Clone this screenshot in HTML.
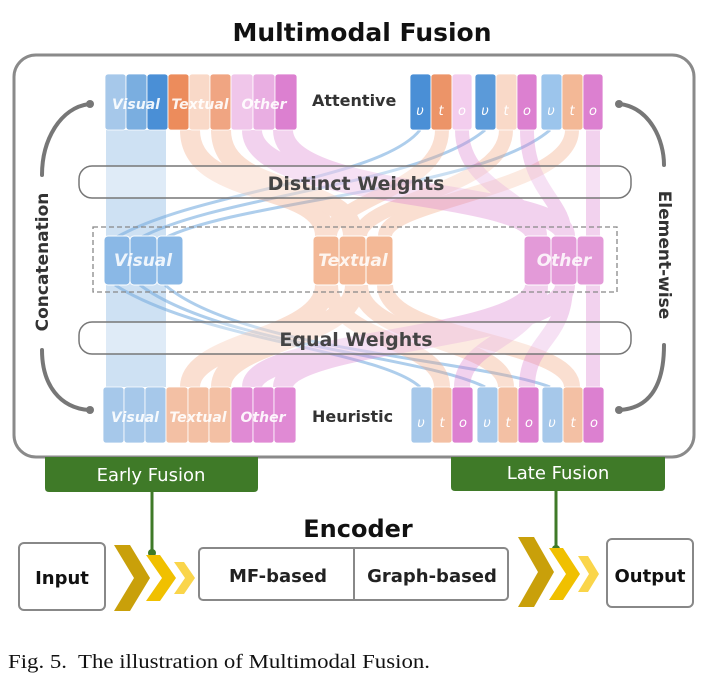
<!DOCTYPE html>
<html><head><meta charset="utf-8"><style>
body{margin:0;background:#fff;width:703px;height:679px;overflow:hidden}
svg text{font-family:"DejaVu Sans","Liberation Sans",sans-serif}
svg text.cap{font-family:"Liberation Serif",serif}
</style></head><body>
<svg width="703" height="679" viewBox="0 0 703 679" xmlns="http://www.w3.org/2000/svg">
<text x="362" y="41" text-anchor="middle" font-size="25" font-weight="bold" fill="#111">Multimodal Fusion</text>
<rect x="14" y="55" width="680" height="402" rx="22" fill="#fff" stroke="#8a8a8a" stroke-width="3"/>

<g fill="none" stroke-linecap="butt">
<path d="M136 130 L136 387" stroke="#a6c8ea" stroke-width="60" opacity="0.55"/>
<g stroke="#7aaee0" stroke-width="3" opacity="0.6">
<path d="M115 238 C200 190 380 180 420 130"/><path d="M140 238 C220 195 420 185 485 130"/><path d="M165 238 C240 200 480 190 550 130"/>
<path d="M115 285 C200 340 380 350 420 387"/><path d="M140 285 C220 345 420 355 485 387"/><path d="M165 285 C240 350 480 360 550 387"/>
</g>
<g stroke="#f2a47e" opacity="0.35">
<path d="M190 130 C190 200 325 180 325 236" stroke-width="20"/>
<path d="M221 130 C221 200 353 180 353 236" stroke-width="20"/>
<path d="M442 130 C442 190 330 200 330 236" stroke-width="14"/>
<path d="M506 130 C506 190 360 200 360 236" stroke-width="14"/>
<path d="M572 130 C572 190 385 200 385 236" stroke-width="14"/>
<path d="M325 285 C325 340 190 340 190 387" stroke-width="20"/>
<path d="M355 285 C355 340 221 340 221 387" stroke-width="20"/>
<path d="M330 285 C330 340 442 340 442 387" stroke-width="16"/>
<path d="M360 285 C360 340 506 340 506 387" stroke-width="16"/>
<path d="M385 285 C385 340 572 340 572 387" stroke-width="16"/>
</g>
<g stroke="#dc80d0" opacity="0.35">
<path d="M252 130 C252 200 535 190 535 236" stroke-width="20"/>
<path d="M283 130 C283 200 565 190 565 236" stroke-width="20"/>
<path d="M462 130 C462 190 540 200 540 236" stroke-width="14"/>
<path d="M527 130 C527 190 565 200 565 236" stroke-width="14"/>
<path d="M593 130 L593 387" stroke-width="14"/>
<path d="M535 285 C535 340 252 340 252 387" stroke-width="20"/>
<path d="M565 285 C565 340 283 340 283 387" stroke-width="20"/>
<path d="M540 285 C540 340 462 340 462 387" stroke-width="16"/>
<path d="M565 285 C565 340 527 340 527 387" stroke-width="16"/>
</g>
</g>

<rect x="79" y="166" width="552" height="32" rx="13" fill="#fff" fill-opacity="0.35" stroke="#777" stroke-width="1.5"/>
<text x="356" y="190" text-anchor="middle" font-size="19" font-weight="bold" fill="#444">Distinct Weights</text>
<rect x="79" y="322" width="552" height="32" rx="13" fill="#fff" fill-opacity="0.35" stroke="#777" stroke-width="1.5"/>
<text x="356" y="346" text-anchor="middle" font-size="19" font-weight="bold" fill="#444">Equal Weights</text>
<rect x="93" y="227" width="524" height="65" fill="none" stroke="#888" stroke-width="1.3" stroke-dasharray="5,3"/>

<g stroke="#fff" stroke-width="1">
<rect x="104" y="236" width="26" height="49" rx="4" fill="#8ab8e6"/><rect x="130" y="236" width="27" height="49" rx="4" fill="#8ab8e6"/><rect x="157" y="236" width="26" height="49" rx="4" fill="#8ab8e6"/>
<rect x="313" y="236" width="26" height="49" rx="4" fill="#f3b896"/><rect x="339" y="236" width="27" height="49" rx="4" fill="#f3b896"/><rect x="366" y="236" width="27" height="49" rx="4" fill="#f3b896"/>
<rect x="524" y="236" width="27" height="49" rx="4" fill="#e39ad8"/><rect x="551" y="236" width="26" height="49" rx="4" fill="#e39ad8"/><rect x="577" y="236" width="27" height="49" rx="4" fill="#e39ad8"/>
</g>
<g font-size="17" font-weight="bold" font-style="italic" fill="#fff" fill-opacity="0.85" text-anchor="middle">
<text x="143" y="266">Visual</text><text x="353" y="266">Textual</text><text x="564" y="266">Other</text>
</g>

<g stroke="#fff" stroke-width="0.8">
<rect x="105" y="74" width="21" height="56" rx="3" fill="#a6c8ea"/><rect x="126" y="74" width="21" height="56" rx="3" fill="#7aaee0"/><rect x="147" y="74" width="21" height="56" rx="3" fill="#4a8fd6"/>
<rect x="168" y="74" width="21" height="56" rx="3" fill="#ec8c5c"/><rect x="189" y="74" width="21" height="56" rx="3" fill="#f9d9c8"/><rect x="210" y="74" width="21" height="56" rx="3" fill="#f0a582"/>
<rect x="231" y="74" width="22" height="56" rx="3" fill="#f0c6ea"/><rect x="253" y="74" width="22" height="56" rx="3" fill="#e9aee2"/><rect x="275" y="74" width="22" height="56" rx="3" fill="#dc80d0"/>
<rect x="410" y="74" width="21" height="56" rx="3" fill="#4a8fd6"/><rect x="431" y="74" width="21" height="56" rx="3" fill="#ec9468"/><rect x="452" y="74" width="20" height="56" rx="3" fill="#f3cdee"/>
<rect x="475" y="74" width="21" height="56" rx="3" fill="#5b9ad9"/><rect x="496" y="74" width="21" height="56" rx="3" fill="#f9d9c8"/><rect x="517" y="74" width="20" height="56" rx="3" fill="#dc80d0"/>
<rect x="541" y="74" width="21" height="56" rx="3" fill="#9cc5ec"/><rect x="562" y="74" width="21" height="56" rx="3" fill="#f3b896"/><rect x="583" y="74" width="20" height="56" rx="3" fill="#dc80d0"/>
</g>
<g stroke="#fff" stroke-width="0.8">
<rect x="103" y="387" width="21" height="56" rx="3" fill="#a6c8ea"/><rect x="124" y="387" width="21" height="56" rx="3" fill="#a6c8ea"/><rect x="145" y="387" width="21" height="56" rx="3" fill="#a6c8ea"/>
<rect x="166" y="387" width="22" height="56" rx="3" fill="#f3c0a4"/><rect x="188" y="387" width="21" height="56" rx="3" fill="#f3c0a4"/><rect x="209" y="387" width="22" height="56" rx="3" fill="#f3c0a4"/>
<rect x="231" y="387" width="22" height="56" rx="3" fill="#e08ad4"/><rect x="253" y="387" width="21" height="56" rx="3" fill="#e08ad4"/><rect x="274" y="387" width="22" height="56" rx="3" fill="#e08ad4"/>
<rect x="411" y="387" width="21" height="56" rx="3" fill="#a6c8ea"/><rect x="432" y="387" width="20" height="56" rx="3" fill="#f3c0a4"/><rect x="452" y="387" width="21" height="56" rx="3" fill="#dc80d0"/>
<rect x="477" y="387" width="21" height="56" rx="3" fill="#a6c8ea"/><rect x="498" y="387" width="20" height="56" rx="3" fill="#f3c0a4"/><rect x="518" y="387" width="21" height="56" rx="3" fill="#dc80d0"/>
<rect x="542" y="387" width="21" height="56" rx="3" fill="#a6c8ea"/><rect x="563" y="387" width="20" height="56" rx="3" fill="#f3c0a4"/><rect x="583" y="387" width="21" height="56" rx="3" fill="#dc80d0"/>
</g>
<g font-size="14" font-weight="bold" font-style="italic" fill="#fff" fill-opacity="0.9" text-anchor="middle">
<text x="136" y="109">Visual</text><text x="200" y="109">Textual</text><text x="264" y="109">Other</text>
<text x="135" y="422">Visual</text><text x="198" y="422">Textual</text><text x="263" y="422">Other</text>
</g>
<g font-size="13" font-style="italic" fill="#fff" text-anchor="middle">
<text x="420" y="115">υ</text><text x="441" y="115">t</text><text x="462" y="115">o</text>
<text x="485" y="115">υ</text><text x="506" y="115">t</text><text x="527" y="115">o</text>
<text x="551" y="115">υ</text><text x="572" y="115">t</text><text x="593" y="115">o</text>
<text x="421" y="427">υ</text><text x="442" y="427">t</text><text x="463" y="427">o</text>
<text x="487" y="427">υ</text><text x="508" y="427">t</text><text x="529" y="427">o</text>
<text x="552" y="427">υ</text><text x="573" y="427">t</text><text x="594" y="427">o</text>
</g>
<g font-size="16" font-weight="bold" fill="#333">
<text x="312" y="106">Attentive</text><text x="312" y="422">Heuristic</text>
</g>

<g fill="none" stroke="#777" stroke-width="4" stroke-linecap="round">
<path d="M89 104 C60 108 42 140 42 175"/><path d="M42 350 C42 385 60 408 89 410"/>
<path d="M620 104 C650 108 664 140 664 165"/><path d="M664 345 C664 385 650 408 620 410"/>
</g>
<g fill="#777"><circle cx="90" cy="104" r="4"/><circle cx="90" cy="410" r="4"/><circle cx="619" cy="104" r="4"/><circle cx="619" cy="410" r="4"/></g>
<text transform="translate(48,262) rotate(-90)" text-anchor="middle" font-size="17" font-weight="bold" fill="#333">Concatenation</text>
<text transform="translate(659,255) rotate(90)" text-anchor="middle" font-size="17" font-weight="bold" fill="#333">Element-wise</text>

<path d="M45 457 H258 V488 Q258 492 254 492 H49 Q45 492 45 488 Z" fill="#3f7a28"/>
<text x="151" y="481" text-anchor="middle" font-size="18" fill="#fff">Early Fusion</text>
<path d="M451 457 H665 V487 Q665 491 661 491 H455 Q451 491 451 487 Z" fill="#3f7a28"/>
<text x="558" y="479" text-anchor="middle" font-size="18" fill="#fff">Late Fusion</text>
<g stroke="#3f7a28" stroke-width="3"><line x1="152" y1="492" x2="152" y2="552"/><line x1="556" y1="491" x2="556" y2="548"/></g>
<circle cx="152" cy="553" r="4" fill="#3f7a28"/><circle cx="556" cy="549" r="4" fill="#3f7a28"/>

<text x="358" y="537" text-anchor="middle" font-size="24" font-weight="bold" fill="#111">Encoder</text>
<rect x="19" y="543" width="86" height="67" rx="5" fill="#fff" stroke="#888" stroke-width="2"/>
<text x="62" y="584" text-anchor="middle" font-size="18" font-weight="bold" fill="#111">Input</text>
<rect x="199" y="548" width="309" height="52" rx="4" fill="#fff" stroke="#888" stroke-width="2"/>
<line x1="354" y1="548" x2="354" y2="600" stroke="#888" stroke-width="2"/>
<text x="278" y="582" text-anchor="middle" font-size="18" font-weight="bold" fill="#222">MF-based</text>
<text x="432" y="582" text-anchor="middle" font-size="18" font-weight="bold" fill="#222">Graph-based</text>
<rect x="607" y="539" width="86" height="68" rx="5" fill="#fff" stroke="#888" stroke-width="2"/>
<text x="650" y="582" text-anchor="middle" font-size="18" font-weight="bold" fill="#111">Output</text>
<g>
<polygon points="114,545 130,545 150,578 130,611 114,611 134,578" fill="#c9a00a"/>
<polygon points="146,555 160,555 176,578 160,601 146,601 162,578" fill="#f0c000"/>
<polygon points="174,562 184,562 195,578 184,594 174,594 185,578" fill="#fad54a"/>
<polygon points="518,537 534,537 554,572 534,607 518,607 538,572" fill="#c9a00a"/>
<polygon points="549,548 563,548 580,574 563,600 549,600 566,574" fill="#f0c000"/>
<polygon points="578,556 588,556 599,574 588,592 578,592 589,574" fill="#fad54a"/>
</g>

<text class="cap" x="8" y="668" font-size="20" fill="#111" textLength="422" lengthAdjust="spacingAndGlyphs" xml:space="preserve">Fig. 5.  The illustration of Multimodal Fusion.</text>
</svg>
</body></html>
